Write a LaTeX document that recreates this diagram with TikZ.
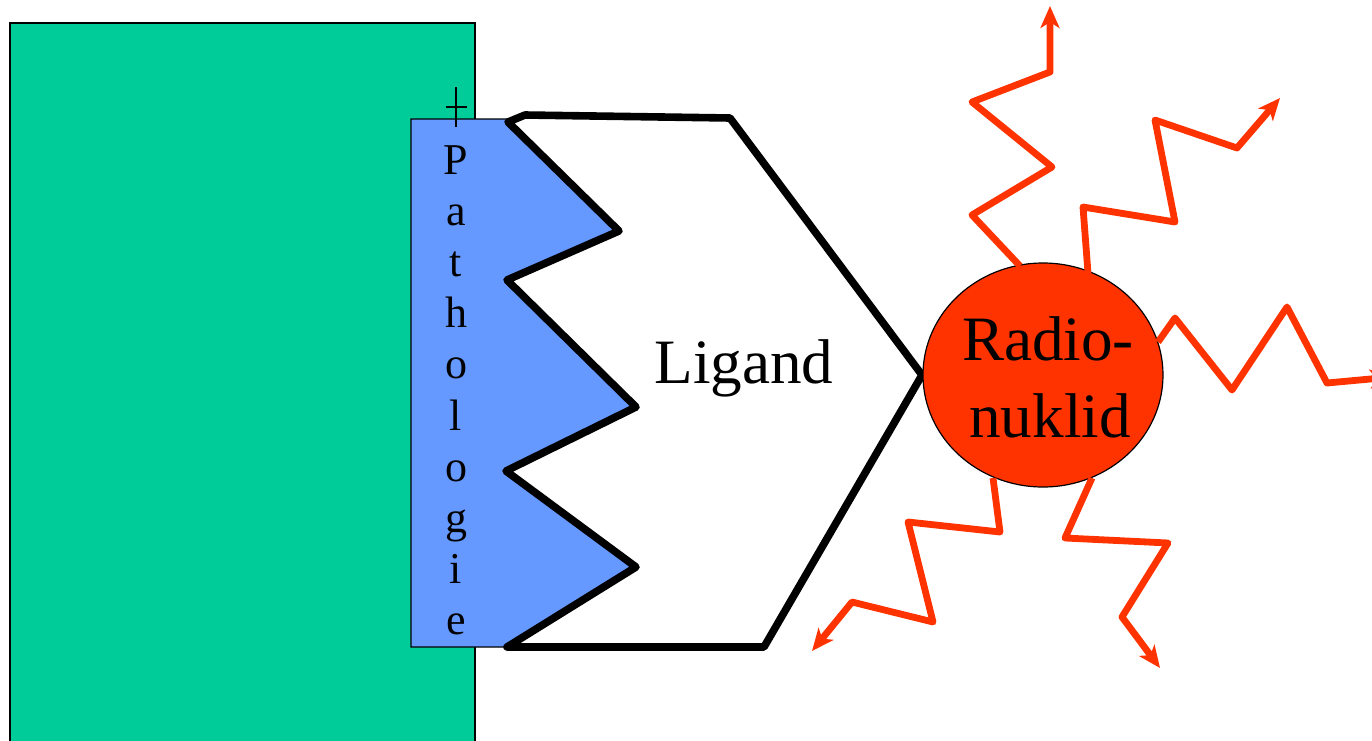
\documentclass[tikz,border=0pt]{standalone}
\usepackage{fontspec}
\setmainfont{Liberation Serif}
\usetikzlibrary{arrows.meta,shapes.geometric}
\definecolor{cellgreen}{HTML}{00CC99}
\definecolor{pathblue}{HTML}{6699FF}
\definecolor{nuclred}{HTML}{FF3300}
\tikzset{
  thinbox/.style={draw=black,line width=0.6pt},
  ligandline/.style={draw=black,line width=3.8pt,line join=round,fill=white},
  ray/.style={draw=nuclred,line width=3.4pt,line join=round,
    -{Stealth[length=11pt,width=9.5pt,inset=3pt]}},
  bigtext/.style={font=\fontsize{31.6pt}{38.5pt}\selectfont,inner sep=0pt},
  lettertext/.style={font=\fontsize{22pt}{26pt}\selectfont,inner sep=0pt,anchor=base}
}
\begin{document}
\begin{tikzpicture}[x=0.5pt,y=-0.5pt]
\useasboundingbox[fill=white] (0,0) rectangle (1372,740);
% cell
\path[thinbox,fill=cellgreen] (10,23) rectangle (475,760);
% pathology receptor
\path[thinbox,fill=pathblue] (411,119) -- (508,119) -- (508,122) -- (619,231) -- (507,280)
  -- (636,407) -- (506,471) -- (636,567) -- (507,647) -- (411,647) -- cycle;
% ligand
\path[ligandline] (730,118) -- (525,115) -- (508,122) -- (619,231) -- (507,280)
  -- (636,407) -- (506,471) -- (636,567) -- (507,647) -- (764,647) -- (922,375) -- cycle;
% plus sign
\draw[line width=0.8pt] (456,87) -- (456,127);
\draw[line width=0.8pt] (446,107) -- (467,107);
% vertical text
\foreach \ch [count=\i from 0] in {P,a,t,h,o,l,o,g,i,e}{
  \node[lettertext] (p\i) at (456,{174+51.2*\i}) {\ch};
}
\node[bigtext,anchor=base] (lig) at (744,383) {Ligand};
% radionuclide
\node[ellipse,draw=black,line width=0.6pt,fill=nuclred,minimum width=120pt,minimum height=112pt,inner sep=0pt] (rn) at (1043,375) {};
\node[bigtext,anchor=base] (rt1) at (1048,360) {Radio-};
\node[bigtext,anchor=base] (rt2) at (1050,437) {nuklid};
% rays
\draw[ray] (1020,266) -- (972,215) -- (1052,167) -- (972,102) -- (1050,72) -- (1050,6);
\draw[ray] (1088,273) -- (1083,207) -- (1175,222) -- (1155,120) -- (1237,148) -- (1280,98);
\draw[ray] (1158,342) -- (1175,318) -- (1232,390) -- (1287,307) -- (1327,383) -- (1392,377);
\draw[ray] (993,478) -- (1000,532) -- (908,522) -- (933,622) -- (852,602) -- (812,651);
\draw[ray] (1092,478) -- (1065,538) -- (1168,543) -- (1122,617) -- (1160,668);
\end{tikzpicture}
\end{document}
